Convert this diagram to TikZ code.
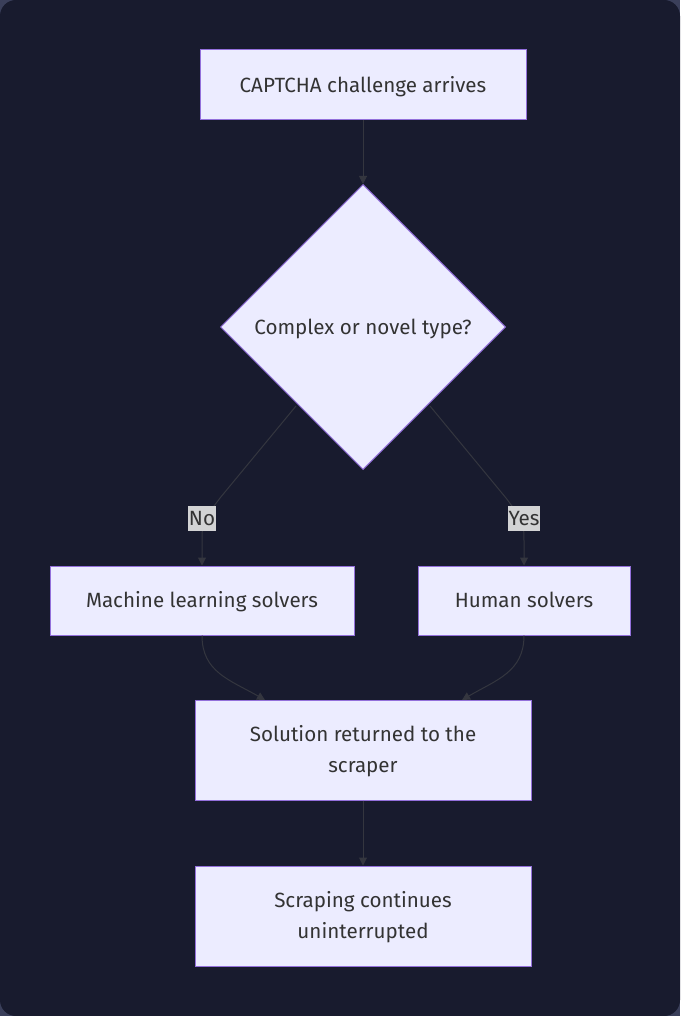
\documentclass[tikz,border=0pt]{standalone}
\usepackage{fontspec}
\setmainfont{Fira Sans}
\usetikzlibrary{shapes.geometric,arrows.meta}
\definecolor{bgout}{HTML}{3A3F5A}
\definecolor{bg}{HTML}{181B2E}
\definecolor{nodefill}{HTML}{ECECFF}
\definecolor{nodeline}{HTML}{9370DB}
\definecolor{txt}{HTML}{333333}
\definecolor{edge}{HTML}{34363F}
\definecolor{lblbg}{HTML}{D2D3D4}
\newcommand\capline[1]{\smash{#1}\rule{0pt}{0.69em}}
\begin{document}
\begin{tikzpicture}[x=1pt,y=-1pt,
  box/.style={draw=nodeline,fill=nodefill,line width=1pt,text=txt,align=center,inner sep=0pt,font=\fontsize{20.6}{31}\selectfont},
  conn/.style={draw=edge,line width=1pt,-{Triangle[length=8pt,width=8pt]}},
  lbl/.style={fill=lblbg,text=txt,inner xsep=1pt,inner ysep=0pt,minimum height=25pt,font=\fontsize{20.6}{24}\selectfont}]
\useasboundingbox (0,0) rectangle (680,1016);
\fill[bgout] (0,0) rectangle (680,1016);
\fill[bg,rounded corners=16pt] (0,0) rectangle (680,1016);
\node[box,minimum width=326pt,minimum height=70pt] (a) at (363,85) {\capline{CAPTCHA challenge arrives}};
\node[box,diamond,minimum width=285pt,minimum height=285pt] (d) at (363,327) {\capline{Complex or novel type?}};
\node[box,minimum width=304pt,minimum height=69pt] (ml) at (202,600.5) {\capline{Machine learning solvers}};
\node[box,minimum width=212pt,minimum height=69pt] (hu) at (524,600.5) {\capline{Human solvers}};
\node[box,minimum width=336pt,minimum height=100pt] (s) at (363,750) {\capline{Solution returned to the}\\\capline{scraper}};
\node[box,minimum width=336pt,minimum height=100pt] (c) at (363,916) {\capline{Scraping continues}\\\capline{uninterrupted}};
\coordinate (dl) at (296,406);
\coordinate (dr) at (430,406);
\draw[conn] (a) -- (d);
\draw[conn] (dl) -- (220,498) .. controls (202,522) .. (202,545) -- (ml.north);
\draw[conn] (dr) -- (506,498) .. controls (524,522) .. (524,545) -- (hu.north);
\draw[conn] (ml.south) .. controls (202,672) and (230,680) .. (265,700);
\draw[conn] (hu.south) .. controls (524,672) and (496,680) .. (462,700);
\draw[conn] (s) -- (c);
\node[lbl] (no) at (202,518) {\capline{No}};
\node[lbl] (yes) at (524,518) {\capline{Yes}};
\end{tikzpicture}
\end{document}
